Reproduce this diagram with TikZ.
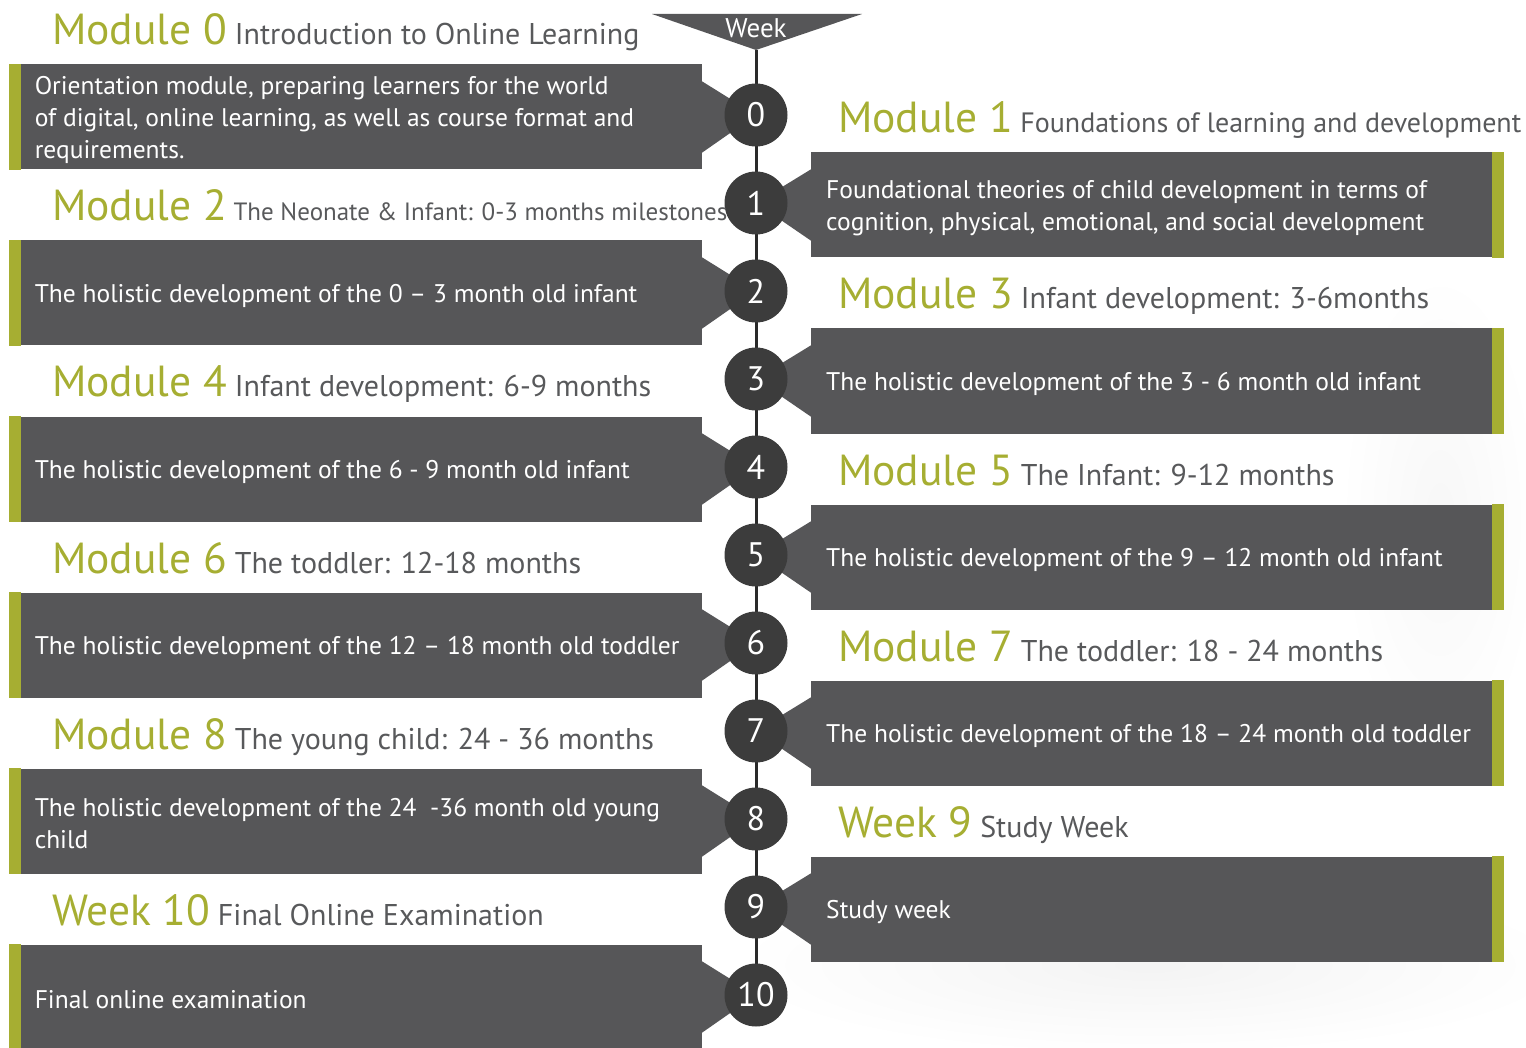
\documentclass[tikz,border=0pt]{standalone}
\usepackage{fontspec}
\setmainfont{PT Sans}
\usetikzlibrary{backgrounds}

\definecolor{boxgray}{HTML}{565658}
\definecolor{circgray}{HTML}{3C3C3C}
\definecolor{modgreen}{HTML}{A6AE32}
\definecolor{subgray}{HTML}{58595B}
\newcommand{\modlabel}[1]{{\color{modgreen}\fontsize{43.5}{43.5}\selectfont #1}}

\begin{document}
\begin{tikzpicture}[x=1pt,y=-1pt,
        week node/.style={circle,fill=circgray,text=white,minimum size=63pt,inner sep=0pt,font=\fontsize{34}{34}\selectfont},
        box text/.style={anchor=west,inner sep=0pt,yshift=-3pt,text=white,align=left,font=\fontsize{25.5}{32}\selectfont},
        left box/.style={rectangle,fill=boxgray,anchor=east,minimum width=681pt,minimum height=105pt,label={[box text,xshift=14pt]west:{#1}}},
        right box/.style={rectangle,fill=boxgray,anchor=west,minimum width=681pt,minimum height=105pt,label={[box text,xshift=15pt]west:{#1}}},
        title/.style={anchor=base west,inner sep=0pt,text=subgray,font=\fontsize{30}{30}\selectfont}]

        \useasboundingbox (0,0) rectangle (1526,1048);

        % week header
        \fill[boxgray] (652,14) -- (862,14) -- (756,50) -- cycle;
        \node[text=white, font=\fontsize{27}{27}\selectfont] (weekhead) at (756,28) {Week};
        \coordinate (tip) at (756,50);

        \node[week node] (w0) at (756,115) {0};
        \node[week node] (w1) at (756,203) {1};
        \node[week node] (w2) at (756,291) {2};
        \node[week node] (w3) at (756,379) {3};
        \node[week node] (w4) at (756,467) {4};
        \node[week node] (w5) at (756,555) {5};
        \node[week node] (w6) at (756,643) {6};
        \node[week node] (w7) at (756,731) {7};
        \node[week node] (w8) at (756,819) {8};
        \node[week node] (w9) at (756,907) {9};
        \node[week node] (w10) at (756,995) {10};

        % left column
        \node[title] (t0) at (52,45) {\modlabel{Module 0} Introduction to Online Learning};
        \node[left box={Orientation module, preparing learners for the world\\of digital, online learning, as well as course format and\\requirements.}] (b0) at (702,117) {};
        \node[title, font=\fontsize{25}{25}\selectfont] (t2) at (52,221) {\modlabel{Module 2} The Neonate \& Infant: 0-3 months milestones};
        \node[left box={The holistic development of the 0 -- 3 month old infant}] (b2) at (702,293) {};
        \node[title] (t4) at (52,397) {\modlabel{Module 4} Infant development: 6-9 months};
        \node[left box={The holistic development of the 6 - 9 month old infant}] (b4) at (702,469) {};
        \node[title] (t6) at (52,573) {\modlabel{Module 6} The toddler: 12-18 months};
        \node[left box={The holistic development of the 12 -- 18 month old toddler}] (b6) at (702,645) {};
        \node[title] (t8) at (52,749) {\modlabel{Module 8} The young child: 24 - 36 months};
        \node[left box={The holistic development of the 24 \ -36 month old young\\child}] (b8) at (702,821) {};
        \node[title] (t10) at (52,925) {\modlabel{Week 10} Final Online Examination};
        \node[left box={Final online examination}] (b10) at (702,997) {};

        % right column
        \node[title, font=\fontsize{28}{28}\selectfont] (t1) at (838,133) {\modlabel{Module 1} Foundations of learning and development};
        \node[right box={Foundational theories of child development in terms of\\cognition, physical, emotional, and social development}] (b1) at (811,205) {};
        \node[title] (t3) at (838,309) {\modlabel{Module 3} Infant development: 3-6months};
        \node[right box={The holistic development of the 3 - 6 month old infant}] (b3) at (811,381) {};
        \node[title] (t5) at (838,485) {\modlabel{Module 5} The Infant: 9-12 months};
        \node[right box={The holistic development of the 9 -- 12 month old infant}] (b5) at (811,557) {};
        \node[title] (t7) at (838,661) {\modlabel{Module 7} The toddler: 18 - 24 months};
        \node[right box={The holistic development of the 18 -- 24 month old toddler}] (b7) at (811,733) {};
        \node[title] (t9) at (838,837) {\modlabel{Week 9} Study Week};
        \node[right box={Study week}] (b9) at (811,909) {};

        \begin{pgfonlayer}{background}
            % faint swoosh behind the lower right
            \shade[inner color=gray!9, outer color=white] (1150,965) ellipse [x radius=420pt, y radius=90pt];
            \shade[inner color=gray!6, outer color=white] (1440,520) ellipse [x radius=100pt, y radius=250pt];

            \draw[line width=3pt, circgray!70!black] (tip) -- (w10.center);
            \foreach \n in {0,2,...,10} {
                \fill[boxgray] ([yshift=-17pt]b\n.north east) -- (w\n.center) -- ([yshift=17pt]b\n.south east) -- cycle;
                \fill[modgreen] ([xshift=-12pt]b\n.south west) rectangle (b\n.north west);
            }
            \foreach \n in {1,3,...,9} {
                \fill[boxgray] ([yshift=-17pt]b\n.north west) -- (w\n.center) -- ([yshift=17pt]b\n.south west) -- cycle;
                \fill[modgreen] ([xshift=12pt]b\n.south east) rectangle (b\n.north east);
            }
        \end{pgfonlayer}

    \end{tikzpicture}
\end{document}
